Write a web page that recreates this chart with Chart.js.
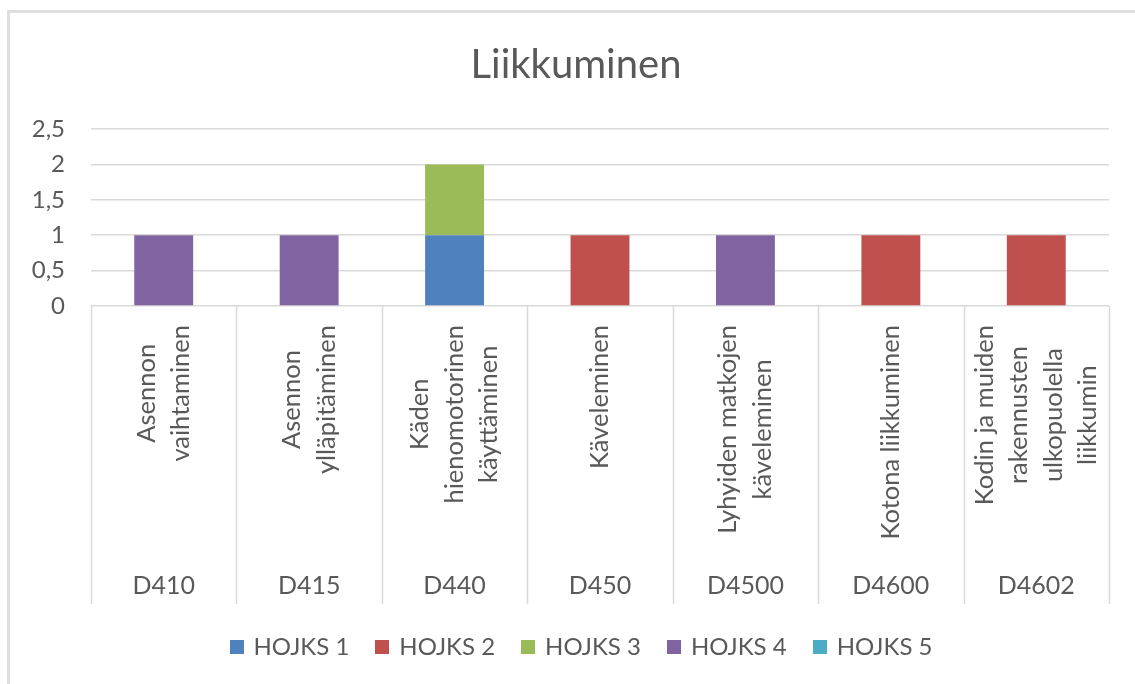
<!DOCTYPE html>
<html>
<head>
<meta charset="utf-8">
<script src="https://cdn.jsdelivr.net/npm/chart.js@4.4.1/dist/chart.umd.min.js"></script>
<style>
  html, body { margin: 0; padding: 0; background: #ffffff; }
  #wrap { position: relative; width: 1135px; height: 684px; overflow: hidden; }
  #frame { position: absolute; left: 7px; top: 10px; width: 1200px; height: 700px;
           border-top: 3px solid #dedede; border-left: 3px solid #dedede; box-sizing: border-box; }
  canvas { position: absolute; left: 0; top: 0; }
</style>
</head>
<body>
<div id="wrap">
  <div id="frame"></div>
  <canvas id="c" width="1135" height="684"></canvas>
</div>
<script>
const chartTitle = 'Liikkuminen';
const categories = ['D410', 'D415', 'D440', 'D450', 'D4500', 'D4600', 'D4602'];
const categoryNames = [
  ['Asennon', 'vaihtaminen'],
  ['Asennon', 'ylläpitäminen'],
  ['Käden', 'hienomotorinen', 'käyttäminen'],
  ['Käveleminen'],
  ['Lyhyiden matkojen', 'käveleminen'],
  ['Kotona liikkuminen'],
  ['Kodin ja muiden', 'rakennusten', 'ulkopuolella', 'liikkumin']
];
const seriesNames = ['HOJKS 1', 'HOJKS 2', 'HOJKS 3', 'HOJKS 4', 'HOJKS 5'];
const hojks1 = [0, 0, 1, 0, 0, 0, 0];
const hojks2 = [0, 0, 0, 1, 0, 1, 1];
const hojks3 = [0, 0, 1, 0, 0, 0, 0];
const hojks4 = [1, 1, 0, 0, 1, 0, 0];
const hojks5 = [0, 0, 0, 0, 0, 0, 0];
const yTickValues = [0, 0.5, 1, 1.5, 2, 2.5];
const seriesColors = ['#4F81BD', '#C0504D', '#9BBB59', '#8064A2', '#4BACC6'];

const seriesValues = [hojks1, hojks2, hojks3, hojks4, hojks5];
const TEXT = '#595959';
const LINE = '#d9d9d9';

const decorations = {
  id: 'decorations',
  afterDraw(chart) {
    const ctx = chart.ctx;
    const xs = chart.scales.x;
    const area = chart.chartArea;
    const n = categories.length;
    const step = (xs.right - xs.left) / n;
    ctx.save();

    // category separators
    ctx.strokeStyle = LINE;
    ctx.lineWidth = 1.5;
    for (let i = 0; i <= n; i++) {
      const x = Math.round(xs.left + i * step) + 0.5;
      ctx.beginPath();
      ctx.moveTo(x, area.bottom);
      ctx.lineTo(x, 604);
      ctx.stroke();
    }

    // rotated category names
    ctx.fillStyle = TEXT;
    ctx.font = '25.5px Lato';
    ctx.textAlign = 'center';
    ctx.textBaseline = 'middle';
    const lh = 34.5;
    for (let i = 0; i < n; i++) {
      const cx = xs.getPixelForValue(i);
      const lines = categoryNames[i];
      let maxW = 0;
      lines.forEach(l => { maxW = Math.max(maxW, ctx.measureText(l).width); });
      const yc = 325 + maxW / 2;
      ctx.save();
      ctx.translate(cx, yc);
      ctx.rotate(-Math.PI / 2);
      lines.forEach((l, j) => {
        ctx.fillText(l, 0, (j - (lines.length - 1) / 2) * lh);
      });
      ctx.restore();
    }

    // category codes
    ctx.font = '25px Lato';
    ctx.textBaseline = 'alphabetic';
    for (let i = 0; i < n; i++) {
      ctx.fillText(categories[i], xs.getPixelForValue(i), 594);
    }

    // title
    ctx.font = '40px Lato';
    ctx.fillText(chartTitle, 576, 78);

    // legend
    ctx.font = '24px Lato';
    const box = 14, gapBox = 10, gapItem = 26;
    const ds = chart.data.datasets;
    const widths = ds.map(d => box + gapBox + ctx.measureText(d.label).width);
    const total = widths.reduce((a, b) => a + b, 0) + gapItem * (ds.length - 1);
    let x = 581 - total / 2;
    ctx.textAlign = 'left';
    ds.forEach((d, i) => {
      ctx.fillStyle = d.backgroundColor;
      ctx.fillRect(Math.round(x), 640, box, box);
      ctx.fillStyle = TEXT;
      ctx.fillText(d.label, x + box + gapBox, 655);
      x += widths[i] + gapItem;
    });
    ctx.restore();
  }
};

new Chart(document.getElementById('c'), {
  type: 'bar',
  data: {
    labels: categories,
    datasets: seriesNames.map((name, i) => ({
      label: name,
      data: seriesValues[i],
      backgroundColor: seriesColors[i],
      borderWidth: 0,
      categoryPercentage: 1,
      barPercentage: 0.405
    }))
  },
  options: {
    responsive: false,
    animation: false,
    devicePixelRatio: 1,
    layout: { padding: { top: 129, bottom: 378, left: 0, right: 26 } },
    plugins: {
      legend: { display: false },
      title: { display: false },
      tooltip: { enabled: false }
    },
    scales: {
      x: {
        stacked: true,
        display: false
      },
      y: {
        stacked: true,
        min: 0,
        max: 2.5,
        afterFit(scale) { scale.width = 91; },
        afterBuildTicks(scale) { scale.ticks = yTickValues.map(v => ({ value: v })); },
        border: { display: false },
        grid: { color: LINE, lineWidth: 1.5, drawTicks: false },
        ticks: {
          padding: 26,
          color: TEXT,
          font: { family: 'Lato', size: 24 },
          callback: v => String(v).replace('.', ',')
        }
      }
    }
  },
  plugins: [decorations]
});
</script>
</body>
</html>
